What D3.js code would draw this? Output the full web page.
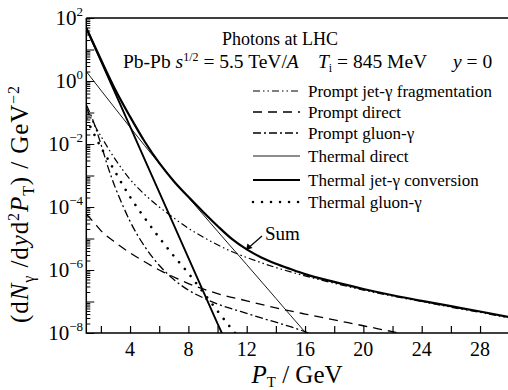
<!DOCTYPE html>
<html><head><meta charset="utf-8">
<script src="https://cdn.jsdelivr.net/npm/d3@7"></script>
<style>
body{margin:0;background:#fff}
svg{display:block;background:#fff}
svg text{font-family:"Liberation Serif","DejaVu Serif","Times New Roman",Times,serif;fill:#000;white-space:pre}
</style>
</head><body>
<svg id="chart" width="508" height="390" font-family="Liberation Serif, DejaVu Serif, Times New Roman, serif"></svg>
<script>
// ---- data ----
const fragPT   = [1,1.5,2,3,4,5,6,7,8,9,10,11,12,13,14,16,18,20,22,24,26,28,30];
const fragVals = [1.41e-1,4.5e-2,1.78e-2,3.2e-3,7.6e-4,2.5e-4,1.0e-4,4.5e-5,2.1e-5,1.12e-5,6.3e-6,3.8e-6,2.5e-6,1.7e-6,1.2e-6,6.5e-7,3.8e-7,2.3e-7,1.48e-7,1.0e-7,6.6e-8,4.5e-8,3.0e-8];

const directPT   = [1,1.5,2,3,4,5,6,7,8,9,10,12,14,16,18,20,22,23];
const directVals = [6.0e-5,3.3e-5,1.78e-5,7.4e-6,3.5e-6,1.82e-6,1.0e-6,6.0e-7,3.7e-7,2.5e-7,1.78e-7,1.05e-7,6.3e-8,4.0e-8,2.6e-8,1.7e-8,1.1e-8,8.9e-9];

const gluonPT   = [1,1.5,2,2.5,3,3.5,4,5,6,7,8,9,10,11,12,13,14,15,16,16.5];
const gluonVals = [1.78e-1,5.0e-2,1.0e-2,1.78e-3,4.0e-4,1.12e-4,3.5e-5,5.6e-6,1.41e-6,5.0e-7,2.3e-7,1.32e-7,8.3e-8,5.8e-8,4.2e-8,3.0e-8,2.2e-8,1.58e-8,1.1e-8,8.9e-9];

const thDirectPT   = [1,2,4,6,8,10,12,14,16,16.3];
const thDirectVals = [2.0,0.51,3.4e-2,2.4e-3,2.0e-4,1.7e-5,1.48e-6,1.26e-7,1.07e-8,7.5e-9];

const thConvPT   = [1,4,7,10,10.5];
const thConvVals = [48,3.6e-2,2.7e-5,2.0e-8,6.2e-9];

const thGluonPT   = [1,1.5,2,2.5,3,3.5,4,5,6,7,8,9,10,11,11.5];
const thGluonVals = [6.3e-2,2.2e-2,7.9e-3,3.2e-3,1.26e-3,5.0e-4,2.1e-4,4.5e-5,1.07e-5,2.8e-6,7.9e-7,2.0e-7,5.0e-8,1.3e-8,7.0e-9];

const sumPT   = [1,2,3,4,5,6,7,8,9,10,11,12,13,14,15,16,18,20,22,24,26,28,30];
const sumVals = [48,4.8,0.52,7.4e-2,1.2e-2,2.5e-3,6.6e-4,2.1e-4,7.1e-5,2.5e-5,9.5e-6,4.5e-6,2.5e-6,1.58e-6,1.07e-6,7.4e-7,4.2e-7,2.5e-7,1.58e-7,1.05e-7,7.1e-8,4.8e-8,3.2e-8];

const legendLabels = ["Prompt jet-γ fragmentation","Prompt direct","Prompt gluon-γ","Thermal direct","Thermal jet-γ conversion","Thermal gluon-γ"];
const xTickLabels = [4,8,12,16,20,24,28];
const yTickExps = [2,0,-2,-4,-6,-8];

// ---- layout ----
const FONT = "Liberation Serif, DejaVu Serif, Times New Roman, serif";
const L = 86.3, R = 509.2, T = 18, B = 333;
const svg = d3.select("#chart");
const x = d3.scaleLinear().domain([1,30]).range([L,R]);
const y = d3.scaleLog().domain([1e-8,1e2]).range([B,T]);

const styles = [
  {w:1.2, dash:"7,3,1.5,3,1.5,3", cap:"butt"},
  {w:1.3, dash:"9,6", cap:"butt"},
  {w:1.3, dash:"8,3,2,3", cap:"butt"},
  {w:0.9, dash:null, cap:"butt"},
  {w:1.9, dash:null, cap:"butt"},
  {w:2.6, dash:"0.01,9", cap:"round"}
];
const series = [
  [fragPT,fragVals],[directPT,directVals],[gluonPT,gluonVals],
  [thDirectPT,thDirectVals],[thConvPT,thConvVals],[thGluonPT,thGluonVals]
];

svg.append("defs").append("clipPath").attr("id","clip")
  .append("rect").attr("x",L).attr("y",T).attr("width",R-L).attr("height",B-T);

const line = d3.line().x(d=>x(d[0])).y(d=>y(d[1])).curve(d3.curveMonotoneX);
const g = svg.append("g").attr("clip-path","url(#clip)");
series.forEach((s,i)=>{
  const pts = s[0].map((p,j)=>[p,s[1][j]]);
  g.append("path").attr("d",line(pts)).attr("fill","none").attr("stroke","#000")
   .attr("stroke-width",styles[i].w).attr("stroke-dasharray",styles[i].dash)
   .attr("stroke-linecap",styles[i].cap);
});
g.append("path").attr("d",line(sumPT.map((p,j)=>[p,sumVals[j]])))
 .attr("fill","none").attr("stroke","#000").attr("stroke-width",2.2);

// ---- axes ----
const xAxis = d3.axisBottom(x).tickValues(d3.range(2,31,2)).tickSize(-7).tickFormat("");
svg.append("g").attr("transform",`translate(0,${B})`).call(xAxis)
  .call(a=>a.select(".domain").remove())
  .selectAll("line").attr("stroke","#000").attr("stroke-width",1.2);
const yTicks = [];
for(let e=-8;e<2;e++) for(let m=1;m<10;m++) yTicks.push(m*Math.pow(10,e));
yTicks.push(100);
const yAxis = d3.axisLeft(y).tickValues(yTicks).tickSize(0).tickFormat("");
const ya = svg.append("g").attr("transform",`translate(${L},0)`).call(yAxis);
ya.select(".domain").remove();
ya.selectAll(".tick line").attr("x2",d=>{const m=Math.round(d/Math.pow(10,Math.floor(Math.log10(d)+1e-9)));return m===1?8:4;})
  .attr("stroke","#000").attr("stroke-width",1);
// frame
svg.append("path").attr("d",`M${L},${T}H${R}M${L},${T}V${B}H${R}`)
  .attr("fill","none").attr("stroke","#000").attr("stroke-width",1.5);

const txt = (sel)=>sel.append("text").attr("font-family",FONT);

// tick labels
xTickLabels.forEach(v=>{
  txt(svg).attr("x",x(v)).attr("y",356).attr("text-anchor","middle")
    .attr("font-size",20).text(v);
});
yTickExps.forEach(e=>{
  const t = txt(svg).attr("x",83).attr("y",y(Math.pow(10,e))+7)
    .attr("text-anchor","end").attr("font-size",21);
  t.append("tspan").text("10");
  t.append("tspan").attr("dy",-9).attr("font-size",13).text(e<0?"−"+(-e):String(e));
});

// axis titles
const xt = txt(svg).attr("x",297).attr("y",383).attr("text-anchor","middle").attr("font-size",25);
xt.append("tspan").attr("font-style","italic").text("P");
xt.append("tspan").attr("dy",4).attr("font-size",15).text("T");
xt.append("tspan").attr("dy",-4).text(" / GeV");

const yt = txt(svg).attr("transform","translate(28,204) rotate(-90)")
  .attr("text-anchor","middle").attr("font-size",25).attr("letter-spacing",0.9);
yt.append("tspan").text("(d");
yt.append("tspan").attr("font-style","italic").text("N");
yt.append("tspan").attr("dy",6).attr("font-size",16).text("γ");
yt.append("tspan").attr("dy",-6).text(" /d");
yt.append("tspan").attr("font-style","italic").text("y");
yt.append("tspan").text("d");
yt.append("tspan").attr("dy",-9).attr("font-size",16).text("2");
yt.append("tspan").attr("dy",9).attr("font-style","italic").text("P");
yt.append("tspan").attr("dy",6).attr("font-size",16).text("T");
yt.append("tspan").attr("dy",-6).text(") / GeV");
yt.append("tspan").attr("dy",-9).attr("font-size",16).text("−2");

// titles
txt(svg).attr("x",222).attr("y",45).attr("font-size",18).text("Photons at LHC");
const t2 = txt(svg).attr("x",123).attr("y",68).attr("font-size",19.5);
t2.append("tspan").text("Pb-Pb ");
t2.append("tspan").attr("font-style","italic").text("s");
t2.append("tspan").attr("dy",-7).attr("font-size",12).text("1/2");
t2.append("tspan").attr("dy",7).text(" = 5.5 TeV/");
t2.append("tspan").attr("font-style","italic").text("A");
const t3 = txt(svg).attr("x",318).attr("y",68).attr("font-size",19.5);
t3.append("tspan").attr("font-style","italic").text("T");
t3.append("tspan").attr("dy",4).attr("font-size",12).text("i");
t3.append("tspan").attr("dy",-4).text(" = 845 MeV");
const t4 = txt(svg).attr("x",453).attr("y",68).attr("font-size",19.5);
t4.append("tspan").attr("font-style","italic").text("y");
t4.append("tspan").text(" = 0");

// legend
const legY = [91,112,133,156,180,202];
legendLabels.forEach((lab,i)=>{
  svg.append("line").attr("x1",253).attr("x2",300).attr("y1",legY[i]).attr("y2",legY[i])
    .attr("stroke","#000").attr("stroke-width",styles[i].w)
    .attr("stroke-dasharray",styles[i].dash).attr("stroke-linecap",styles[i].cap);
  txt(svg).attr("x",308).attr("y",legY[i]+6).attr("font-size",17).text(lab);
});

// Sum annotation
txt(svg).attr("x",265).attr("y",240).attr("font-size",19).text("Sum");
svg.append("line").attr("x1",262).attr("y1",236).attr("x2",250).attr("y2",246.5)
  .attr("stroke","#000").attr("stroke-width",1.2);
svg.append("path").attr("d","M246,250 L247.5,243.5 L252.5,248 Z").attr("fill","#000");
</script>
</body></html>
